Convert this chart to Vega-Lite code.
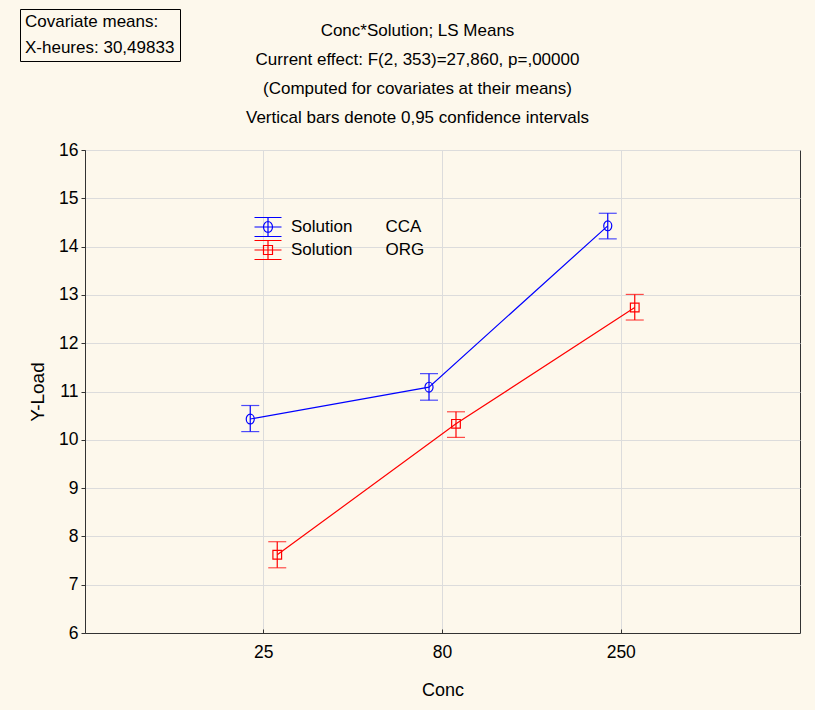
{
  "$schema": "https://vega.github.io/schema/vega-lite/v6.json",
  "width": 715,
  "height": 483,
  "autosize": {"type": "none"},
  "padding": {"left": 85, "top": 150, "right": 15, "bottom": 77},
  "background": "#FDF8EC",
  "title": {
    "text": ["Conc*Solution; LS Means", "Current effect: F(2, 353)=27,860, p=,00000", "(Computed for covariates at their means)", "Vertical bars denote 0,95 confidence intervals"],
    "font": "Liberation Sans",
    "fontSize": 17,
    "fontWeight": "normal",
    "color": "#000000",
    "lineHeight": 29,
    "anchor": "middle",
    "dx": -25,
    "offset": -118
  },
  "config": {
    "font": "Liberation Sans",
    "view": {"stroke": "#333333", "strokeWidth": 1, "fill": "#FFFFFF"},
    "axis": {
      "labelFont": "Liberation Sans",
      "labelFontSize": 17.5,
      "labelColor": "#000000",
      "titleFont": "Liberation Sans",
      "titleFontSize": 18,
      "titleFontWeight": "normal",
      "titleColor": "#000000",
      "domainColor": "#333333",
      "tickColor": "#333333",
      "gridColor": "#DCDCDC",
      "gridWidth": 1
    }
  },
  "datasets": {
    "means": [
      {"Conc": "25", "Solution": "CCA", "mean": 10.43, "lo": 10.17, "hi": 10.71},
      {"Conc": "80", "Solution": "CCA", "mean": 11.09, "lo": 10.82, "hi": 11.37},
      {"Conc": "250", "Solution": "CCA", "mean": 14.43, "lo": 14.16, "hi": 14.69},
      {"Conc": "25", "Solution": "ORG", "mean": 7.62, "lo": 7.35, "hi": 7.89},
      {"Conc": "80", "Solution": "ORG", "mean": 10.33, "lo": 10.05, "hi": 10.58},
      {"Conc": "250", "Solution": "ORG", "mean": 12.74, "lo": 12.48, "hi": 13.01}
    ],
    "covariates": [
      {"cov": "X-heures: 30,49833"}
    ]
  },
  "layer": [
    {
      "data": {"name": "means"},
      "encoding": {
        "x": {
          "field": "Conc",
          "type": "ordinal",
          "sort": ["25", "80", "250"],
          "scale": {"type": "band", "paddingInner": 0.698, "paddingOuter": 0.849},
          "axis": {
            "title": "Conc",
            "labelAngle": 0,
            "tickSize": -4,
            "labelPadding": 14,
            "titlePadding": 21,
            "grid": true,
            "domainColor": "#333333"
          }
        },
        "xOffset": {
          "field": "Solution",
          "type": "nominal",
          "sort": ["CCA", "ORG"],
          "scale": {"paddingInner": 0, "paddingOuter": 0}
        },
        "color": {
          "field": "Solution",
          "type": "nominal",
          "scale": {"domain": ["CCA", "ORG"], "range": ["#0000FF", "#FF0000"]},
          "legend": {
            "orient": "none",
            "legendX": 172,
            "legendY": 66,
            "title": null,
            "padding": 0,
            "rowPadding": -2,
            "symbolSize": 400,
            "symbolStrokeWidth": 1.2,
            "symbolFillColor": "transparent",
            "symbolOpacity": 1,
            "labelOffset": 12,
            "labelFont": "Liberation Sans",
            "labelFontSize": 17,
            "labelColor": "#000000",
            "labelExpr": "'Solution\u00a0\u00a0\u00a0\u00a0\u00a0\u00a0\u00a0' + datum.label",
            "encode": {
              "symbols": {
                "update": {
                  "shape": {"signal": "datum.value === 'CCA' ? 'M-1.35,-0.95H1.35M-1.35,0H1.35M-1.35,0.95H1.35M0,-0.95V0.95M-0.45,0A0.45,0.55 0 1,0 0.45,0A0.45,0.55 0 1,0 -0.45,0Z' : 'M-1.35,-0.95H1.35M-1.35,0H1.35M-1.35,0.95H1.35M0,-0.95V0.95M-0.45,-0.45H0.45V0.45H-0.45Z'"},
                  "fill": {"value": "transparent"},
                  "fillOpacity": {"value": 0},
                  "stroke": {"signal": "datum.value === 'CCA' ? '#0000FF' : '#FF0000'"},
                  "strokeOpacity": {"value": 1},
                  "strokeWidth": {"value": 1.2}
                }
              }
            }
          }
        }
      },
      "layer": [
        {
          "mark": {"type": "line", "strokeWidth": 1.2},
          "encoding": {
            "y": {
              "field": "mean",
              "type": "quantitative",
              "scale": {"domain": [6, 16], "nice": false, "zero": false},
              "axis": {
                "title": "Y-Load",
                "values": [6, 7, 8, 9, 10, 11, 12, 13, 14, 15, 16],
                "tickSize": 4,
                "labelPadding": 3,
                "titlePadding": 11,
                "titleFontSize": 19,
                "grid": true
              }
            }
          }
        },
        {
          "mark": {"type": "rule", "strokeWidth": 1.2},
          "encoding": {
            "y": {"field": "lo", "type": "quantitative"},
            "y2": {"field": "hi"}
          }
        },
        {
          "mark": {"type": "tick", "size": 18, "thickness": 1.2, "orient": "horizontal"},
          "encoding": {"y": {"field": "lo", "type": "quantitative"}}
        },
        {
          "mark": {"type": "tick", "size": 18, "thickness": 1.2, "orient": "horizontal"},
          "encoding": {"y": {"field": "hi", "type": "quantitative"}}
        },
        {
          "mark": {"type": "point", "filled": false, "strokeWidth": 1.2, "opacity": 1},
          "encoding": {
            "y": {"field": "mean", "type": "quantitative"},
            "shape": {
              "field": "Solution",
              "type": "nominal",
              "scale": {"domain": ["CCA", "ORG"], "range": ["M-0.9,0A0.9,1.1 0 1,0 0.9,0A0.9,1.1 0 1,0 -0.9,0Z", "M-0.97,-0.97H0.97V0.97H-0.97Z"]},
              "legend": null
            },
            "size": {"value": 80}
          }
        }
      ]
    },
    {
      "data": {"name": "covariates"},
      "mark": {"type": "text"},
      "encoding": {
        "text": {"value": ""},
        "color": {
          "field": "cov",
          "type": "nominal",
          "scale": {"range": ["transparent"]},
          "legend": {
            "orient": "none",
            "legendX": -65,
            "legendY": -141,
            "title": "Covariate means:",
            "titleFont": "Liberation Sans",
            "titleFontSize": 17,
            "titleFontWeight": "normal",
            "titleColor": "#000000",
            "titlePadding": 8,
            "labelFont": "Liberation Sans",
            "labelFontSize": 17,
            "labelColor": "#000000",
            "symbolSize": 0,
            "symbolStrokeWidth": 0,
            "labelOffset": -17,
            "padding": 5,
            "strokeColor": "#000000",
            "fillColor": "#FDF8EC"
          }
        }
      }
    }
  ],
  "resolve": {"scale": {"color": "independent"}, "legend": {"color": "independent"}}
}
